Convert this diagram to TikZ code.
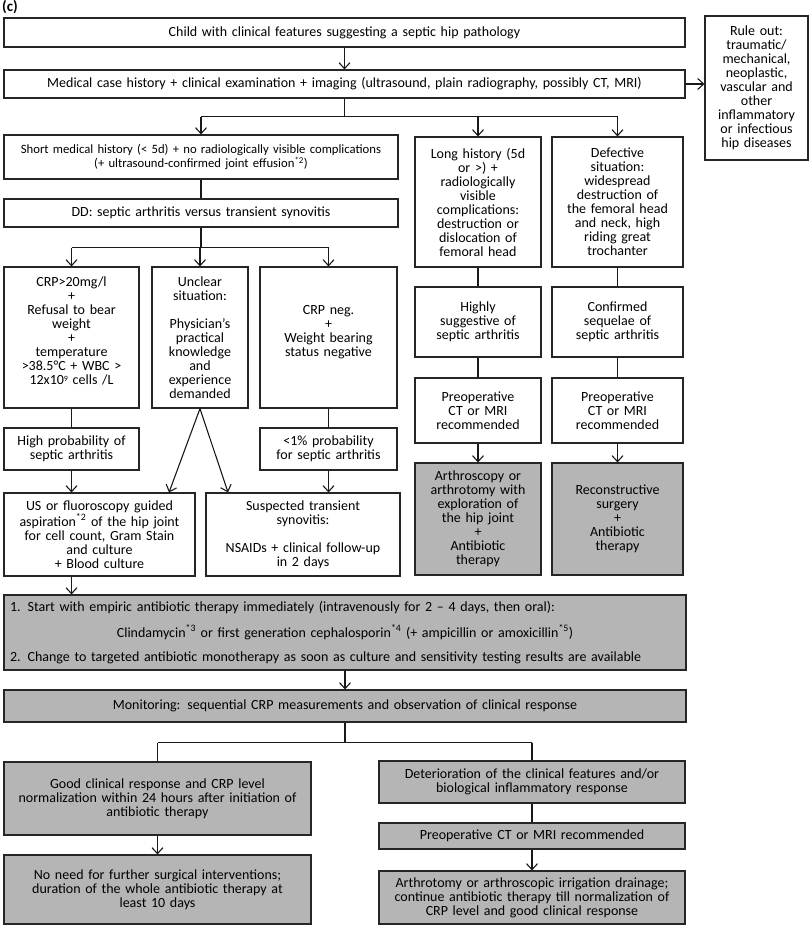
\documentclass[tikz,border=0pt]{standalone}
\usepackage{fontspec}
\setmainfont{Carlito}
\usetikzlibrary{arrows.meta}
\tikzset{
 box/.style={draw=black!85, line width=1.1pt, fill=white, align=center, inner xsep=3pt, inner ysep=1pt, font=\fontsize{14}{14}\selectfont},
 gbox/.style={box, fill=gray!58},
 conn/.style={line width=1.1pt, draw=black!90},
 arr/.style={conn, -{Straight Barb[length=6pt,width=11pt,line width=1.1pt]}},
}
\newcommand{\bx}[7][]{%
 \pgfmathsetmacro\bxw{#4-#2}%
 \pgfmathsetmacro\bxh{#5-#3}%
 \pgfmathsetmacro\bxcx{(#2+#4)/2}%
 \pgfmathsetmacro\bxcy{(#3+#5)/2}%
 \pgfmathsetmacro\bxtw{#4-#2-6}%
 \node[box,minimum width=\bxw pt,minimum height=\bxh pt,text width=\bxtw pt,#1] (#6) at (\bxcx,\bxcy) {#7};}
\newcommand{\smallsup}[1]{\raisebox{0.45ex}{\fontsize{8}{8}\selectfont #1}}
\begin{document}
\begin{tikzpicture}[x=1pt,y=-1pt]
\fill[white] (0,0) rectangle (811,928);
\useasboundingbox (0,0) rectangle (811,928);
\node[font=\fontsize{15}{15}\selectfont\bfseries, anchor=north west, inner sep=0pt] (lbl) at (2,0) {(c)};
% top boxes
\bx{4}{18}{685}{47}{top}{Child with clinical features suggesting a septic hip pathology}
\bx{4}{70}{685}{98}{med}{Medical case history + clinical examination + imaging (ultrasound, plain radiography, possibly CT, MRI)}
\bx{705}{16}{808}{160}{rule}{Rule out:\\traumatic/\\mechanical,\\neoplastic,\\vascular and\\other\\inflammatory\\or infectious\\hip diseases}
% left branch
\bx[font=\fontsize{12.7}{14}\selectfont]{4}{135}{398}{179}{short}{Short medical history (< 5d) + no radiologically visible complications\\(+ ultrasound-confirmed joint effusion\textsuperscript{*2})}
\bx{4}{199}{398}{227}{dd}{DD: septic arthritis versus transient synovitis}
\bx{4}{267}{139}{408}{crp}{CRP>20mg/l\\+\\Refusal to bear\\weight\\+\\temperature\\>38.5°C + WBC >\\12x10\smallsup{9} cells /L\\~}
\bx{152}{267}{248}{408}{unclear}{Unclear\\situation:\\~\\Physician's\\practical\\knowledge\\and\\experience\\demanded}
\bx{260}{267}{397}{408}{crpneg}{CRP neg.\\+\\Weight bearing\\status negative\\~}
\bx{4}{428}{139}{470}{highprob}{High probability of\\septic arthritis}
\bx{260}{428}{397}{470}{lowprob}{<1\% probability\\for septic arthritis}
\bx{4}{493}{195}{576}{us}{US or fluoroscopy guided\\aspiration\textsuperscript{*2} of the hip joint\\for cell count, Gram Stain\\and culture\\+ Blood culture}
\bx{206}{493}{400}{576}{susp}{Suspected transient\\synovitis:\\~\\NSAIDs + clinical follow-up\\in 2 days}
% right branches
\bx{415}{137}{541}{267}{long}{Long history (5d\\or >) +\\radiologically\\visible\\complications:\\destruction or\\dislocation of\\femoral head}
\bx{552}{137}{683}{267}{defect}{Defective\\situation:\\widespread\\destruction of\\the femoral head\\and neck, high\\riding great\\trochanter}
\bx{415}{287}{541}{357}{highly}{Highly\\suggestive of\\septic arthritis}
\bx{552}{287}{683}{357}{confirmed}{Confirmed\\sequelae of\\septic arthritis}
\bx{415}{378}{541}{443}{preopa}{Preoperative\\CT or MRI\\recommended}
\bx{552}{378}{683}{443}{preopb}{Preoperative\\CT or MRI\\recommended}
\bx[gbox]{415}{463}{541}{575}{arthro}{Arthroscopy or\\arthrotomy with\\exploration of\\the hip joint\\+\\Antibiotic\\therapy}
\bx[gbox]{552}{463}{683}{575}{recon}{Reconstructive\\surgery\\+\\Antibiotic\\therapy}
% antibiotic & monitoring
\bx[gbox,align=left,inner xsep=6pt,text width=670pt]{4}{595}{686}{670}{anti}{1. Start with empiric antibiotic therapy immediately (intravenously for 2 – 4 days, then oral):\\[10pt]\makebox[\linewidth][c]{Clindamycin\textsuperscript{*3} or first generation cephalosporin\textsuperscript{*4} (+ ampicillin or amoxicillin\textsuperscript{*5})}\\[10pt]2. Change to targeted antibiotic monotherapy as soon as culture and sensitivity testing results are available}
\bx[gbox]{4}{690}{686}{722}{monitor}{Monitoring: sequential CRP measurements and observation of clinical response}
\bx[gbox]{4}{762}{311}{835}{good}{Good clinical response and CRP level\\normalization within 24 hours after initiation of\\antibiotic therapy}
\bx[gbox]{379}{761}{685}{803}{deter}{Deterioration of the clinical features and/or\\biological inflammatory response}
\bx[gbox]{379}{823}{685}{849}{preopc}{Preoperative CT or MRI recommended}
\bx[gbox]{4}{855}{311}{924}{noneed}{No need for further surgical interventions;\\duration of the whole antibiotic therapy at\\least 10 days}
\bx[gbox]{379}{871}{685}{924}{arthrob}{Arthrotomy or arthroscopic irrigation drainage;\\continue antibiotic therapy till normalization of\\CRP level and good clinical response}
% connectors
\draw[arr] (top.south) -- (med.north);
\draw[arr] (med.east) -- (rule.west |- med.east);
\draw[conn] (med.south) -- ++(0,18) coordinate (j1);
\draw[conn] (short.north |- j1) -- (defect.north |- j1);
\draw[arr] (short.north |- j1) -- (short.north);
\draw[arr] (long.north |- j1) -- (long.north);
\draw[arr] (defect.north |- j1) -- (defect.north);
\draw[conn] (short.south) -- (dd.north);
\draw[conn] (dd.south) -- ++(0,20) coordinate (j2);
\draw[conn] (crp.north |- j2) -- (crpneg.north |- j2);
\draw[arr] (crp.north |- j2) -- (crp.north);
\draw[arr] (unclear.north |- j2) -- (unclear.north);
\draw[arr] (crpneg.north |- j2) -- (crpneg.north);
\draw[conn] (crp.south) -- (highprob.north);
\draw[conn] (crpneg.south) -- (lowprob.north);
\draw[arr] (highprob.south) -- (highprob.south |- us.north);
\draw[arr] (lowprob.south) -- (lowprob.south |- susp.north);
\draw[arr] (unclear.south) -- ([xshift=-31pt]unclear.south |- us.north);
\draw[arr] (unclear.south) -- ([xshift=28pt]unclear.south |- susp.north);
\draw[conn] (long.south) -- (highly.north);
\draw[conn] (highly.south) -- (preopa.north);
\draw[arr] (preopa.south) -- (arthro.north);
\draw[conn] (defect.south) -- (confirmed.north);
\draw[conn] (confirmed.south) -- (preopb.north);
\draw[arr] (preopb.south) -- (recon.north);
\draw[arr] (highprob.south |- us.south) -- (highprob.south |- anti.north);
\draw[arr] (anti.south) -- (monitor.north);
\draw[conn] (monitor.south) -- ++(0,20) coordinate (j3);
\draw[conn] (good.north |- j3) -- (deter.north |- j3);
\draw[conn] (good.north |- j3) -- (good.north);
\draw[conn] (deter.north |- j3) -- (deter.north);
\draw[arr] (good.south) -- (noneed.north);
\draw[conn] (deter.south) -- (preopc.north);
\draw[arr] (preopc.south) -- (arthrob.north);
\end{tikzpicture}
\end{document}
